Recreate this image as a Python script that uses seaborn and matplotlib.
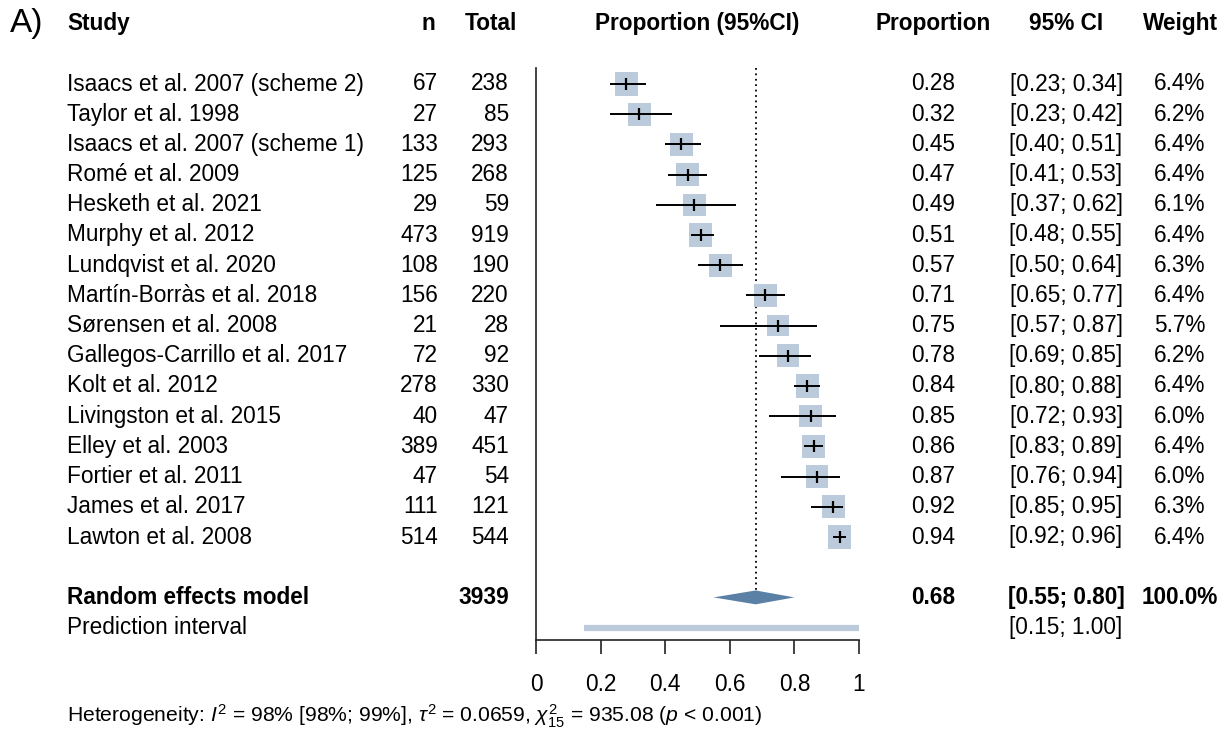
import numpy as np
import matplotlib
matplotlib.use("Agg")
import matplotlib.pyplot as plt
import matplotlib.transforms as mtransforms
from matplotlib.patches import Polygon
import seaborn as sns

# study-level data
studies = ["Isaacs et al. 2007 (scheme 2)", "Taylor et al. 1998", "Isaacs et al. 2007 (scheme 1)",
           "Romé et al. 2009", "Hesketh et al. 2021", "Murphy et al. 2012", "Lundqvist et al. 2020",
           "Martín-Borràs et al. 2018", "Sørensen et al. 2008", "Gallegos-Carrillo et al. 2017",
           "Kolt et al. 2012", "Livingston et al. 2015", "Elley et al. 2003", "Fortier et al. 2011",
           "James et al. 2017", "Lawton et al. 2008"]
n_events = [67, 27, 133, 125, 29, 473, 108, 156, 21, 72, 278, 40, 389, 47, 111, 514]
n_total = [238, 85, 293, 268, 59, 919, 190, 220, 28, 92, 330, 47, 451, 54, 121, 544]
prop = [0.28, 0.32, 0.45, 0.47, 0.49, 0.51, 0.57, 0.71, 0.75, 0.78, 0.84, 0.85, 0.86, 0.87, 0.92, 0.94]
ci_low = [0.23, 0.23, 0.40, 0.41, 0.37, 0.48, 0.50, 0.65, 0.57, 0.69, 0.80, 0.72, 0.83, 0.76, 0.85, 0.92]
ci_high = [0.34, 0.42, 0.51, 0.53, 0.62, 0.55, 0.64, 0.77, 0.87, 0.85, 0.88, 0.93, 0.89, 0.94, 0.95, 0.96]
weight = [6.4, 6.2, 6.4, 6.4, 6.1, 6.4, 6.3, 6.4, 5.7, 6.2, 6.4, 6.0, 6.4, 6.0, 6.3, 6.4]

# pooled estimate
re_total = 3939
re_prop, re_low, re_high = 0.68, 0.55, 0.80
pi_low, pi_high = 0.15, 1.00
xticks = [0, 0.2, 0.4, 0.6, 0.8, 1]
xticklabels = ["0", "0.2", "0.4", "0.6", "0.8", "1"]

sns.set_style("white")
plt.rcParams["font.family"] = ["Liberation Sans", "DejaVu Sans"]
plt.rcParams["mathtext.fontset"] = "custom"
plt.rcParams["mathtext.rm"] = "Liberation Sans"
plt.rcParams["mathtext.it"] = "Liberation Sans:italic"
plt.rcParams["mathtext.bf"] = "Liberation Sans:bold"
plt.rcParams["text.color"] = "black"
plt.rcParams["xtick.color"] = "black"
plt.rcParams["axes.labelcolor"] = "black"

W, H = 1231, 734
fig = plt.figure(figsize=(W / 100, H / 100), dpi=100)
fig.patch.set_facecolor("white")

# forest panel placed in pixel terms
x0, x1 = 536, 859
ytop, ybot = 68, 640
row0, rowstep = 84, 30.2
ax = fig.add_axes([x0 / W, (H - ybot) / H, (x1 - x0) / W, (ybot - ytop) / H])
ax.set_xlim(0, 1)
ax.set_ylim((ybot - row0) / rowstep, (ytop - row0) / rowstep)
ax.set_facecolor("none")

rows = np.arange(len(studies))
df = {"prop": prop, "row": rows, "weight": weight}
box_col = "#bccbdc"
sns.scatterplot(x="prop", y="row", data=df, size="weight",
                sizes=(276 * min(weight) / max(weight), 276), marker="s",
                color=box_col, linewidth=0, legend=False, ax=ax, clip_on=False, zorder=2)
ax.hlines(rows, ci_low, ci_high, color="black", lw=1.4, zorder=3, clip_on=False)
ax.plot(prop, rows, ls="none", marker="|", ms=8, mew=1.6, color="black", zorder=4, clip_on=False)

re_row, pi_row = 17, 18
dh = 0.23
ax.vlines(re_prop, ax.get_ylim()[1], re_row - dh, color="black", lw=1.3, ls=(0, (1, 2)), zorder=1)
ax.add_patch(Polygon([[re_low, re_row], [re_prop, re_row - dh], [re_high, re_row], [re_prop, re_row + dh]],
                     closed=True, facecolor="#5b80a5", edgecolor="none", zorder=3))
ax.hlines(pi_row, pi_low, pi_high, color="#bccbdc", lw=4.5, zorder=3)

for s in ["top", "right"]:
    ax.spines[s].set_visible(False)
ax.spines["left"].set_color("#222222")
ax.spines["bottom"].set_color("#222222")
ax.spines["left"].set_linewidth(1.2)
ax.spines["bottom"].set_linewidth(1.2)
ax.set_yticks([])
ax.set_xticks(xticks)
ax.set_xticklabels(xticklabels, fontsize=16.3)
ax.tick_params(axis="x", direction="out", length=10, width=1.2, color="#222222", labelcolor="black",
               pad=14, bottom=True)
ax.set_xlabel("")
ax.set_ylabel("")

tr = mtransforms.blended_transform_factory(fig.transFigure, ax.transData)
fs = 16.3

def col(px, y, s, ha, bold=False, size=fs):
    ax.text(px / W, y, s, transform=tr, ha=ha, va="center", fontsize=size, color="black",
            fontweight="bold" if bold else "normal", clip_on=False)

hrow = -2
col(10, hrow, "A)", "left", size=24)
col(435, hrow, "n", "right", True)
col(67, hrow, "Study", "left", True)
col(491, hrow, "Total", "center", True)
col(697, hrow, "Proportion (95%CI)", "center", True)
col(933, hrow, "Proportion", "center", True)
col(1066, hrow, "95% CI", "center", True)
col(1180, hrow, "Weight", "center", True)

for i in rows:
    col(67, i, studies[i], "left")
    col(438, i, str(n_events[i]), "right")
    col(509, i, str(n_total[i]), "right")
    col(933, i, f"{prop[i]:.2f}", "center")
    col(1066, i, f"[{ci_low[i]:.2f}; {ci_high[i]:.2f}]", "center")
    col(1180, i, f"{weight[i]:.1f}%", "center")

col(67, re_row, "Random effects model", "left", True)
col(509, re_row, str(re_total), "right", True)
col(933, re_row, f"{re_prop:.2f}", "center", True)
col(1066, re_row, f"[{re_low:.2f}; {re_high:.2f}]", "center", True)
col(1180, re_row, "100.0%", "center", True)
col(67, pi_row, "Prediction interval", "left")
col(1066, pi_row, f"[{pi_low:.2f}; {pi_high:.2f}]", "center")

col(67, 20.95, r"Heterogeneity: $I^2$ = 98% [98%; 99%], $\tau^2$ = 0.0659, $\chi^2_{15}$ = 935.08 ($p$ < 0.001)",
    "left", size=15.2)

fig.savefig("out.png", dpi=100)
